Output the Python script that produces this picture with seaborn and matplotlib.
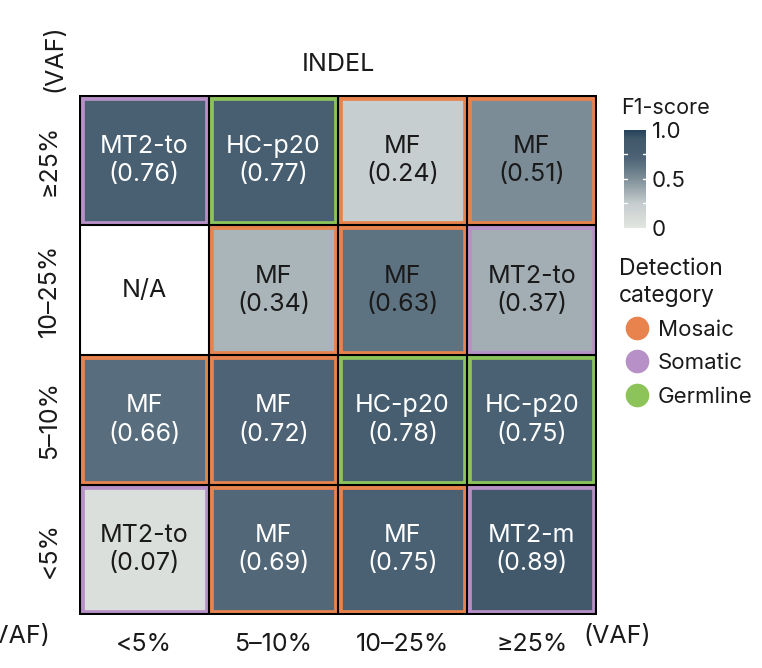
import numpy as np
import pandas as pd
import matplotlib
matplotlib.use('Agg')
import matplotlib.pyplot as plt
import seaborn as sns
from matplotlib.colors import LinearSegmentedColormap
from matplotlib.patches import Rectangle
from matplotlib.lines import Line2D

# --- data (rows top -> bottom) ---
row_labels = ['≥25%', '10–25%', '5–10%', '<5%']
col_labels = ['<5%', '5–10%', '10–25%', '≥25%']

f1_scores = [
    [0.76, 0.77, 0.24, 0.51],
    [np.nan, 0.34, 0.63, 0.37],
    [0.66, 0.72, 0.78, 0.75],
    [0.07, 0.69, 0.75, 0.89],
]
best_tools = [
    ['MT2-to', 'HC-p20', 'MF', 'MF'],
    ['N/A', 'MF', 'MF', 'MT2-to'],
    ['MF', 'MF', 'HC-p20', 'HC-p20'],
    ['MT2-to', 'MF', 'MF', 'MT2-m'],
]
categories = [
    ['Somatic', 'Germline', 'Mosaic', 'Mosaic'],
    [None, 'Mosaic', 'Mosaic', 'Somatic'],
    ['Mosaic', 'Mosaic', 'Germline', 'Germline'],
    ['Somatic', 'Mosaic', 'Mosaic', 'Somatic'],
]
category_names = ['Mosaic', 'Somatic', 'Germline']
category_colors = {'Mosaic': '#e8834e', 'Somatic': '#b690c6', 'Germline': '#8cc45a'}

sns.set_theme(style='white')
plt.rcParams['font.family'] = ['Inter', 'DejaVu Sans']
txt = '#1a1a1a'

cmap = LinearSegmentedColormap.from_list('f1', [
    (0.0, '#e2e5e0'), (0.24, '#c7cecf'), (0.37, '#a2aeb3'), (0.51, '#7b8c96'),
    (0.63, '#5e7382'), (0.70, '#506678'), (0.78, '#475e70'), (0.90, '#41596b'),
    (1.0, '#25405a'),
])
cmap.set_bad('white')

df = pd.DataFrame(f1_scores, index=row_labels, columns=col_labels)
labels = np.array([f'{t}\n({v:.2f})' if not np.isnan(v) else ''
                   for t, v in zip(np.ravel(best_tools), np.ravel(f1_scores))]).reshape(4, 4)

fig = plt.figure(figsize=(7.62, 6.68), dpi=100)
ax = fig.add_axes([0.1037, 0.0793, 0.6798, 0.7784])
cax = fig.add_axes([0.819, 0.659, 0.029, 0.147])

sns.heatmap(
    df, ax=ax, cbar_ax=cax, cmap=cmap, vmin=0, vmax=1,
    annot=labels, fmt='', annot_kws={'size': 18},
    square=False,
)

# text colour: white on dark cells
for t in ax.texts:
    v = float(t.get_text().split('(')[1].rstrip(')'))
    t.set_color('white' if v >= 0.645 else txt)
    t.set_linespacing(1.3)

ax.text(0.5, 1.5, 'N/A', ha='center', va='center', fontsize=18, color=txt)

# coloured inner borders for the detection category
d = 0.016
for i in range(4):
    for j in range(4):
        c = categories[i][j]
        if c is None:
            continue
        ax.add_patch(Rectangle((j + d, i + d), 1 - 2 * d, 1 - 2 * d, fill=False,
                               edgecolor=category_colors[c], linewidth=3.4, zorder=3))

# black grid
for k in range(5):
    ax.axhline(k, color='black', lw=1.5, zorder=4)
    ax.axvline(k, color='black', lw=1.5, zorder=4)
ax.set_xlim(-0.005, 4.005)
ax.set_ylim(4.005, -0.005)

ax.set_xlabel('')
ax.set_ylabel('')
ax.tick_params(length=0, pad=13)
ax.set_xticklabels(col_labels, fontsize=18, color=txt, rotation=0)
ax.set_yticklabels(row_labels, fontsize=18, color=txt, rotation=90, va='center')
ax.set_title('INDEL', fontsize=18, color=txt, pad=17)

ax.text(3.9, 4.17, '(VAF)', ha='left', va='center', fontsize=18, color=txt, clip_on=False)
ax.text(-0.19, -0.03, '(VAF)', ha='center', va='bottom', fontsize=18, color=txt,
        rotation=90, clip_on=False)
fig.text(50 / 762, 1 - 637 / 668, '≥25%  (VAF)', ha='right', va='center', fontsize=18, color=txt)

# colourbar
cb = ax.collections[0].colorbar
cb.outline.set_visible(False)
cb.set_ticks([0, 0.5, 1.0])
cb.set_ticklabels(['0', '0.5', '1.0'])
cax.tick_params(length=0, labelsize=16, labelcolor=txt, pad=4)
for yv in [0.25, 0.5, 0.75]:
    cax.plot([0, 0.15], [yv, yv], color='white', lw=1, transform=cax.get_yaxis_transform())
    cax.plot([0.85, 1.0], [yv, yv], color='white', lw=1, transform=cax.get_yaxis_transform())
fig.text(621 / 762, 1 - 108 / 668, 'F1-score', ha='left', va='center', fontsize=15.5, color=txt)

# legend for detection category
handles = [Line2D([], [], marker='o', ls='', markersize=16, color=category_colors[n]) for n in category_names]
leg = fig.legend(handles, category_names, loc='upper left', bbox_to_anchor=(0.798, 0.63),
                 title='Detection\ncategory', frameon=False, fontsize=16, title_fontsize=16.5,
                 handletextpad=0.15, labelspacing=0.6, alignment='left', borderpad=0,
                 handlelength=1.6)
for t in leg.get_texts():
    t.set_color(txt)
leg.get_title().set_color(txt)
leg.get_title().set_linespacing(1.25)

fig.savefig('out.png', dpi=100)
